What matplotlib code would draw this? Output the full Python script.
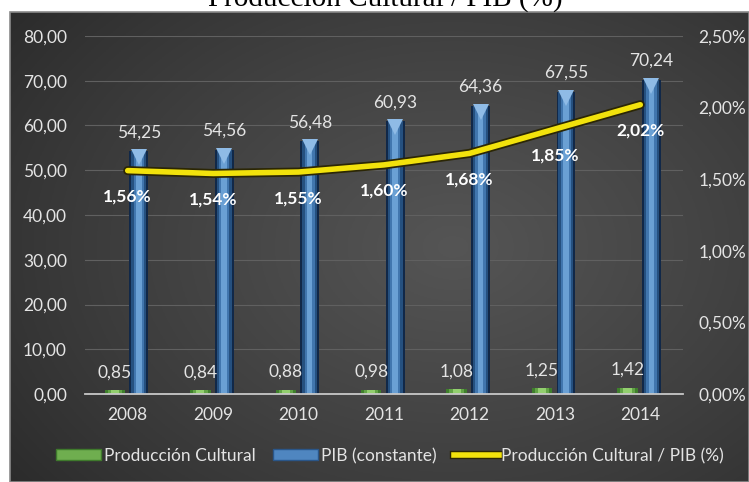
import numpy as np
import matplotlib
matplotlib.use('Agg')
import matplotlib.pyplot as plt
import matplotlib.patheffects as pe
import matplotlib.transforms as mtransforms
from matplotlib.patches import Patch, Rectangle
from matplotlib.lines import Line2D
from matplotlib.ticker import FuncFormatter, MultipleLocator

years = ['2008', '2009', '2010', '2011', '2012', '2013', '2014']
prod_cultural = [0.85, 0.84, 0.88, 0.98, 1.08, 1.25, 1.42]
pib_constante = [54.25, 54.56, 56.48, 60.93, 64.36, 67.55, 70.24]
ratio_pct = [1.56, 1.54, 1.55, 1.60, 1.68, 1.85, 2.02]

W, H = 749, 482
plt.rcParams['font.family'] = ['Lato', 'DejaVu Sans']
fig = plt.figure(figsize=(W / 100, H / 100), dpi=100, facecolor='white')

# title (cut off at top in the reference)
fig.text(385 / W, 1 - 6 / H, 'Producción Cultural / PIB (%)', ha='center', va='baseline',
         fontsize=21, family='Liberation Serif', color='black')

# dark gradient panel
bg = fig.add_axes([10 / W, 0, 1 - 10 / W, 470 / H])
yy, xx = np.mgrid[0:1:200j, 0:1:300j]
r = np.sqrt(((xx - 0.6) / 0.85) ** 2 + ((yy - 0.5) / 0.95) ** 2)
v = np.clip(1 - r, 0, 1) ** 0.8
c0 = np.array([0x22, 0x22, 0x22]) / 255
c1 = np.array([0x55, 0x55, 0x55]) / 255
img = c0 + (c1 - c0) * v[..., None]
bg.imshow(img, aspect='auto', extent=[0, 1, 0, 1], origin='lower')
bg.set_xlim(0, 1); bg.set_ylim(0, 1)
bg.set_axis_off()
fig.patches.append(Rectangle((10 / W, 0), 1 - 10 / W, 470 / H, transform=fig.transFigure,
                             fill=False, edgecolor='#8a8a8a', lw=1.2, zorder=0.5))

ax = fig.add_axes([85 / W, 1 - 394 / H, (683 - 85) / W, (394 - 36) / H])
ax.patch.set_alpha(0)
x = np.arange(len(years))
ax.set_xlim(-0.5, len(years) - 0.5)
ax.set_ylim(0, 80)

w_g, w_b = 0.24, 0.22
off_g = -0.15
off_b = 0.13

# green bars with layered shading
for frac, col in [(1.0, '#3f7f2c'), (0.7, '#62a446'), (0.4, '#92cf6e')]:
    ax.bar(x + off_g, prod_cultural, width=w_g * frac, color=col, zorder=2)

# blue bars with cylinder shading
for frac, col in [(1.0, '#112848'), (0.8, '#25507f'), (0.55, '#4176ae'), (0.3, '#6aa0d4')]:
    ax.bar(x + off_b, pib_constante, width=w_b * frac, color=col, zorder=2)
cap = mtransforms.offset_copy(ax.transData, fig=fig, x=0, y=-6, units='dots')
ax.plot(x + off_b, pib_constante, linestyle='none', marker='v', markersize=12,
        color='#8fbbe6', markeredgewidth=0, transform=cap, zorder=3)

ax.yaxis.set_major_locator(MultipleLocator(10))
ax.yaxis.set_major_formatter(FuncFormatter(lambda v, p: f'{v:.2f}'.replace('.', ',')))
ax.grid(axis='y', color='#606060', lw=0.8, zorder=0)
ax.set_axisbelow(True)
ax.set_xticks(x)
ax.set_xticklabels(years)
for s in ['top', 'left', 'right']:
    ax.spines[s].set_visible(False)
ax.spines['bottom'].set_color('#c8c8c8')
ax.spines['bottom'].set_linewidth(1.3)
ax.tick_params(axis='y', length=0, pad=13, colors='#e4e4e4', labelsize=12.5)
ax.tick_params(axis='x', length=0, pad=9, colors='#e4e4e4', labelsize=12.5)

# value labels
for xi, val in zip(x, pib_constante):
    ax.annotate(f'{val:.2f}'.replace('.', ','), (xi + off_b, val), xytext=(0, 11),
                textcoords='offset pixels', ha='center', va='bottom', color='#e4e4e4', fontsize=12.5)
for xi, val in zip(x, prod_cultural):
    ax.annotate(f'{val:.2f}'.replace('.', ','), (xi + off_g, val), xytext=(0, 10),
                textcoords='offset pixels', ha='center', va='bottom', color='#e4e4e4', fontsize=12.5)

ax2 = ax.twinx()
ax2.set_ylim(0, 2.5)
ax2.patch.set_alpha(0)
ax2.yaxis.set_major_locator(MultipleLocator(0.5))
ax2.yaxis.set_major_formatter(FuncFormatter(lambda v, p: f'{v:.2f}%'.replace('.', ',')))
for s in ['top', 'left', 'right', 'bottom']:
    ax2.spines[s].set_visible(False)
ax2.tick_params(axis='y', length=0, pad=11, colors='#e4e4e4', labelsize=12.5)
ax2.plot(x, ratio_pct, color='#f2e20c', lw=4, solid_capstyle='round', solid_joinstyle='round',
         path_effects=[pe.Stroke(linewidth=6.5, foreground='#2b2605'), pe.Normal()], zorder=4)
for xi, val in zip(x, ratio_pct):
    ax2.annotate(f'{val:.2f}%'.replace('.', ','), (xi, val), xytext=(0, -26),
                 textcoords='offset pixels', ha='center', va='center', color='white',
                 fontsize=12.5, fontweight='bold', zorder=5)

handles = [Patch(facecolor='#6fae4f', edgecolor='#3f7a2c'),
           Patch(facecolor='#4f86c0', edgecolor='#2a5689'),
           Line2D([0], [0], color='#f2e20c', lw=4,
                  path_effects=[pe.Stroke(linewidth=6, foreground='#2b2605'), pe.Normal()])]
labels = ['Producción Cultural', 'PIB (constante)', 'Producción Cultural / PIB (%)']
leg = fig.legend(handles, labels, loc='center', bbox_to_anchor=(390 / W, 1 - 456 / H), ncol=3,
                 frameon=False, fontsize=12.5, handlelength=2.6, handleheight=0.6,
                 handletextpad=0.15, columnspacing=1.0, labelcolor='#e4e4e4')

fig.savefig('out.png', dpi=100, facecolor='white')
